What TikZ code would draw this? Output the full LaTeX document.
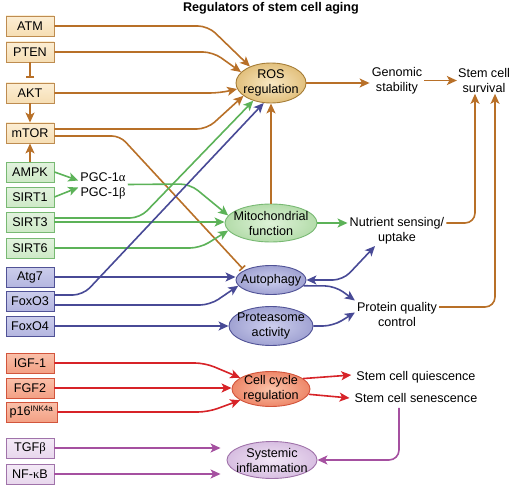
\documentclass[tikz,border=0pt]{standalone}
\usepackage{fontspec}
\setmainfont{Liberation Sans}
\newfontfamily\grk{Liberation Serif}
\usetikzlibrary{arrows.meta,shapes.geometric}
\definecolor{brA}{RGB}{184,112,40}
\definecolor{brF}{RGB}{246,222,180}
\definecolor{brT}{RGB}{252,238,212}
\definecolor{brD}{RGB}{190,140,80}
\definecolor{rosIn}{RGB}{248,232,195}
\definecolor{rosOut}{RGB}{226,192,125}
\definecolor{rosD}{RGB}{165,125,55}
\definecolor{grA}{RGB}{92,178,88}
\definecolor{grF}{RGB}{206,233,199}
\definecolor{grT}{RGB}{226,243,222}
\definecolor{grD}{RGB}{120,185,115}
\definecolor{grIn}{RGB}{222,242,216}
\definecolor{grOut}{RGB}{180,220,170}
\definecolor{blA}{RGB}{72,74,150}
\definecolor{blF}{RGB}{180,182,224}
\definecolor{blT}{RGB}{204,206,236}
\definecolor{blD}{RGB}{80,82,150}
\definecolor{blIn}{RGB}{205,207,238}
\definecolor{blOut}{RGB}{160,162,210}
\definecolor{rdA}{RGB}{215,35,40}
\definecolor{rdF}{RGB}{243,160,132}
\definecolor{rdT}{RGB}{250,192,170}
\definecolor{rdD}{RGB}{210,85,60}
\definecolor{rdIn}{RGB}{250,195,170}
\definecolor{rdOut}{RGB}{238,135,105}
\definecolor{puA}{RGB}{165,80,160}
\definecolor{puF}{RGB}{232,215,237}
\definecolor{puT}{RGB}{244,234,247}
\definecolor{puD}{RGB}{160,115,170}
\definecolor{puIn}{RGB}{242,230,246}
\definecolor{puOut}{RGB}{215,190,225}
\tikzset{
  box/.style={draw, line width=0.9pt, minimum width=48pt, minimum height=20pt, inner sep=0pt},
  brbox/.style={box, top color=brT, bottom color=brF, draw=brD},
  grbox/.style={box, top color=grT, bottom color=grF, draw=grD},
  blbox/.style={box, top color=blT, bottom color=blF, draw=blD},
  rdbox/.style={box, top color=rdT, bottom color=rdF, draw=rdD},
  pubox/.style={box, top color=puT, bottom color=puF, draw=puD},
  ell/.style={ellipse, line width=0.9pt, inner sep=0pt, shading=radial},
  lbl/.style={align=center, inner sep=2pt},
  arr/.style={line width=1.6pt, -{Stealth[length=10pt,width=9pt,inset=2.5pt]}, rounded corners=10pt},
  darr/.style={line width=1.6pt, {Stealth[length=10pt,width=9pt,inset=2.5pt]}-{Stealth[length=10pt,width=9pt,inset=2.5pt]}, rounded corners=10pt},
  inh/.style={line width=1.6pt, -{Bar[width=8pt]}, rounded corners=8pt},
}
\begin{document}
\begin{tikzpicture}[x=1pt,y=-1pt,font=\fontsize{12.6}{15}\selectfont]
\useasboundingbox (0,0) rectangle (512,487);
\node[font=\fontsize{12.6}{15}\selectfont\bfseries] (title) at (271,8) {Regulators of stem cell aging};
% left boxes
\node[brbox] (ATM) at (30,26) {ATM};
\node[brbox] (PTEN) at (30,52) {PTEN};
\node[brbox] (AKT) at (30,93) {AKT};
\node[brbox] (mTOR) at (30,133) {mTOR};
\node[grbox] (AMPK) at (30,172) {AMPK};
\node[grbox] (SIRT1) at (30,197) {SIRT1};
\node[grbox] (SIRT3) at (30,222) {SIRT3};
\node[grbox] (SIRT6) at (30,248) {SIRT6};
\node[blbox] (Atg7) at (30,277) {Atg7};
\node[blbox] (FoxO3) at (30,301) {FoxO3};
\node[blbox] (FoxO4) at (30,326) {FoxO4};
\node[rdbox] (IGF) at (30,363) {IGF-1};
\node[rdbox] (FGF) at (30,388) {FGF2};
\node[rdbox, minimum width=51pt] (p16) at (31.5,412) {p16\textsuperscript{\fontsize{8}{9}\selectfont INK4a}};
\node[pubox] (TGF) at (30,448) {TGF{\grk β}};
\node[pubox] (NFKB) at (30,474) {NF-{\grk κ}B};
% ellipses
\node[ell, draw=rosD, inner color=rosIn, outer color=rosOut, minimum width=70pt, minimum height=40pt,
  label={[lbl]center:ROS\\regulation}] (ROS) at (271,83) {};
\node[ell, draw=grD, inner color=grIn, outer color=grOut, minimum width=92pt, minimum height=38pt,
  label={[lbl]center:Mitochondrial\\function}] (Mito) at (271,223) {};
\node[ell, draw=blD, inner color=blIn, outer color=blOut, minimum width=70pt, minimum height=29pt,
  label={[lbl]center:Autophagy}] (Auto) at (271,280) {};
\node[ell, draw=blD, inner color=blIn, outer color=blOut, minimum width=84pt, minimum height=39pt,
  label={[lbl]center:Proteasome\\activity}] (Prot) at (271,326) {};
\node[ell, draw=rdD, inner color=rdIn, outer color=rdOut, minimum width=78pt, minimum height=35pt,
  label={[lbl]center:Cell cycle\\regulation}] (CC) at (271,389) {};
\node[ell, draw=puD, inner color=puIn, outer color=puOut, minimum width=90pt, minimum height=37pt,
  label={[lbl]center:Systemic\\inflammation}] (SI) at (272,460) {};
% text nodes
\node[lbl] (PGC) at (103,185.5) {PGC-1{\grk α}\\PGC-1{\grk β}};
\node[lbl] (Gen) at (397,80.5) {Genomic\\stability};
\node[lbl, inner sep=1pt] (Surv) at (484,80.5) {Stem cell\\survival};
\node[lbl] (Nut) at (397,230.5) {Nutrient sensing/\\uptake};
\node[lbl] (PQC) at (397,314.5) {Protein quality\\control};
\node[lbl, inner sep=5pt] (Qui) at (416,377) {Stem cell quiescence};
\node[lbl, inner sep=5pt] (Sen) at (416,398) {Stem cell senescence};
% brown connectors
\draw[arr, brA] (ATM.east) -- (208,26) -- (ROS.142);
\draw[arr, brA] (PTEN.east) -- (213,52) -- (ROS.160);
\draw[arr, brA] (AKT.east) -- (220,93) -- (ROS.190);
\draw[arr, brA] ([yshift=4pt]mTOR.east) -- (207,129) -- (ROS.205);
\draw[inh, brA, shorten >=2pt] ([yshift=-3pt]mTOR.east) -- (120,136) -- (Auto.160);
\draw[inh, brA] (PTEN.south) -- ([yshift=5pt]AKT.north);
\draw[arr, brA] (AKT.south) -- (mTOR.north);
\draw[arr, brA] (AMPK.north) -- (mTOR.south);
\draw[arr, brA] (Mito.north) -- (ROS.south);
\draw[arr, brA] (ROS.east) -- (ROS.east -| Gen.west);
\draw[arr, brA] (Gen.east) -- (Gen.east -| Surv.west);
\draw[arr, brA] ([yshift=7.5pt]Nut.east) -| ([xshift=-9pt]Surv.south);
\draw[arr, brA] ([yshift=7.5pt]PQC.east) -| ([xshift=11pt]Surv.south);
% green connectors
\draw[arr, grA] (AMPK.east) -- ([yshift=5pt]PGC.west);
\draw[arr, grA] (SIRT1.east) -- ([yshift=-2pt]PGC.west);
\draw[arr, grA] ([yshift=1pt]PGC.east) -- (190,184) -- (Mito.170);
\draw[arr, grA] ([yshift=4pt]SIRT3.east) -- (140,218) -- (ROS.225);
\draw[arr, grA] (SIRT3.east) -- (SIRT3.east -| Mito.west);
\draw[arr, grA] (SIRT6.east) -- (200,248) -- (Mito.190);
\draw[arr, grA] (Mito.east) -- ([yshift=7.5pt]Nut.west);
% blue connectors
\draw[arr, blA] (Atg7.east) -- (Atg7.east -| Auto.west);
\draw[arr, blA] ([yshift=6pt]FoxO3.east) -- (83,295) -- (ROS.250);
\draw[arr, blA] ([yshift=-4pt]FoxO3.east) -- (210,305) -- (Auto.190);
\draw[arr, blA] (FoxO4.east) -- (Prot.west);
\draw[darr, blA] (Auto.east) -- (343,280) -- ([xshift=-22pt]Nut.south);
\draw[arr, blA] (Auto.-10) -- (335,286) -- ([yshift=14pt]PQC.west);
\draw[arr, blA] (Prot.east) -- (333,326) -- ([yshift=2pt]PQC.west);
% red connectors
\draw[arr, rdA] (IGF.east) -- (205,363) -- (CC.160);
\draw[arr, rdA] (FGF.east) -- (FGF.east -| CC.west);
\draw[arr, rdA] (p16.east) -- (208,412) -- (CC.200);
\draw[arr, rdA] (CC.18) -- ([yshift=2pt]Qui.west);
\draw[arr, rdA] (CC.-8) -- (Sen.west);
% purple connectors
\draw[arr, puA] ([xshift=-17pt]Sen.south) |- (SI.east);
\draw[arr, puA, shorten >=6pt] (TGF.east) -- (TGF.east -| SI.west);
\draw[arr, puA, shorten >=6pt] (NFKB.east) -- (NFKB.east -| SI.west);
\end{tikzpicture}
\end{document}
